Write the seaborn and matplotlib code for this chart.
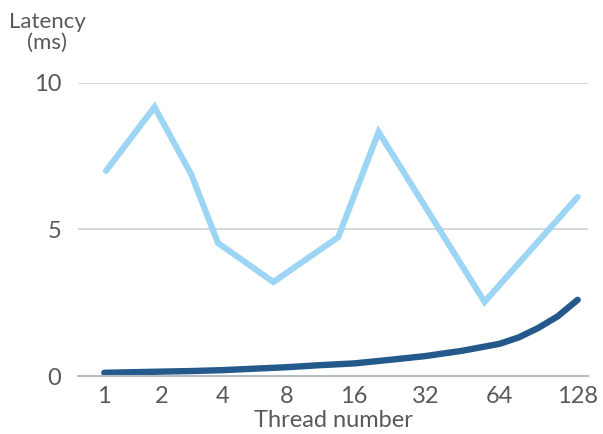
import numpy as np
import pandas as pd
import matplotlib
matplotlib.use("Agg")
import matplotlib.pyplot as plt
import seaborn as sns

# thread counts shown on the x axis (category index 0..7)
threads = ["1", "2", "4", "8", "16", "32", "64", "128"]

# dark series, every half category (quarters near the end)
dark_x = [0, 0.5, 1, 1.5, 2, 2.5, 3, 3.5, 4, 4.5, 5, 5.5, 6, 6.25, 6.5, 6.75, 7]
dark_latency = [0.11, 0.13, 0.15, 0.17, 0.2, 0.25, 0.3, 0.37, 0.43,
                0.55, 0.68, 0.86, 1.1, 1.32, 1.64, 2.04, 2.6]

# light series: vertices at fractional category positions
light_x = [0.03, 0.88, 1.5, 1.93, 2.8, 3.77, 4.35, 5.8, 7.0]
light_latency = [7.0, 9.18, 6.86, 4.54, 3.21, 4.74, 8.33, 2.53, 6.11]

TEXT = "#595959"
LIGHT = "#9dd5f4"
DARK = "#245a8b"

# the category axis widens slightly towards the right
C = 0.031


def fwd(u):
    u = np.asarray(u, dtype=float)
    return u + C * u ** 2


def inv(v):
    v = np.asarray(v, dtype=float)
    return (-1 + np.sqrt(np.clip(1 + 4 * C * v, 0, None))) / (2 * C)


def main():
    sns.set_style("white")
    plt.rcParams["font.family"] = ["Lato", "DejaVu Sans"]

    fig = plt.figure(figsize=(6.03, 4.34), dpi=100)
    ax = fig.add_axes([0.1294, 0.1336, 0.8458, 0.6752])

    df_light = pd.DataFrame({"x": light_x, "y": light_latency})
    df_dark = pd.DataFrame({"x": dark_x, "y": dark_latency})

    sns.lineplot(data=df_light, x="x", y="y", ax=ax, color=LIGHT, linewidth=4.4,
                 solid_capstyle="round", solid_joinstyle="miter", sort=False)
    sns.lineplot(data=df_dark, x="x", y="y", ax=ax, color=DARK, linewidth=4.6,
                 solid_capstyle="round", sort=False, clip_on=False)

    ax.set_xscale("function", functions=(fwd, inv))
    ax.set_xlim(-0.48, 7.13)
    ax.set_ylim(0, 10)

    ax.set_xticks(range(len(threads)))
    ax.set_xticklabels(threads)
    ax.set_yticks([0, 5, 10])
    ax.set_yticklabels(["0", "5", "10"])
    ax.tick_params(axis="both", length=0, labelsize=17, colors=TEXT)
    ax.tick_params(axis="y", pad=12)
    ax.tick_params(axis="x", pad=7)

    ax.grid(axis="y", color="#cfd3d7", linewidth=1.2)
    ax.grid(axis="x", visible=False)
    for s in ["top", "right", "left"]:
        ax.spines[s].set_visible(False)
    ax.spines["bottom"].set_color("#b4bcc6")
    ax.spines["bottom"].set_linewidth(1.5)
    ax.set_axisbelow(True)

    ax.set_xlabel("Thread number", fontsize=17, color=TEXT, labelpad=2)
    ax.set_ylabel("")
    fig.text(0.078, 0.925, "Latency\n(ms)", ha="center", va="center",
             fontsize=16, color=TEXT, linespacing=1.1)

    fig.savefig("out.png", dpi=100)


if __name__ == "__main__":
    main()
